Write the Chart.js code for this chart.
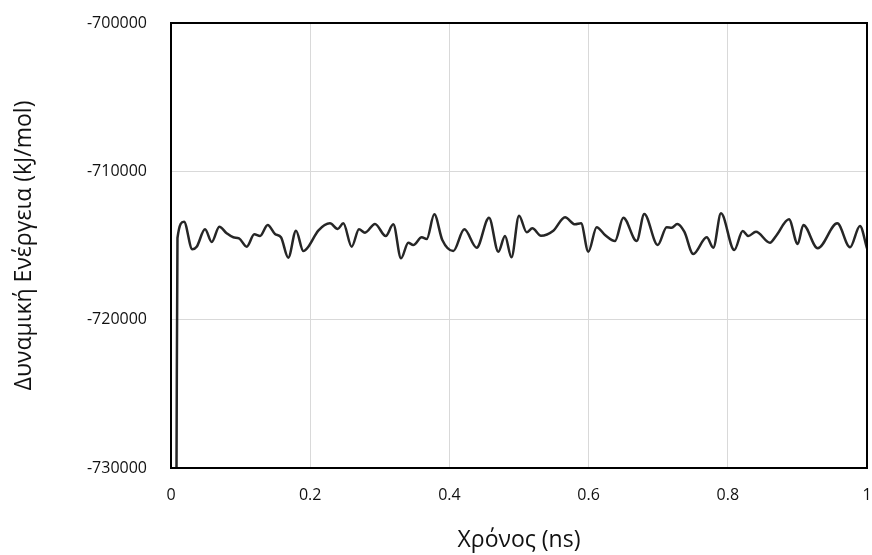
<!DOCTYPE html>
<html>
<head>
<meta charset="utf-8">
<script src="https://cdn.jsdelivr.net/npm/chart.js@4/dist/chart.umd.min.js"></script>
<style>
  html, body { margin: 0; padding: 0; background: #ffffff; }
  #wrap { width: 872px; height: 555px; }
</style>
</head>
<body>
<div id="wrap"><canvas id="c" width="872" height="555"></canvas></div>
<script>
// Time (ns) and potential energy (kJ/mol) of the simulation
const timeNs = [
  0.0079, 0.0093, 0.0187, 0.0306, 0.0369, 0.0489, 0.0585, 0.0694, 0.0800, 0.0895,
  0.0977, 0.1088, 0.1197, 0.1279, 0.1389, 0.1494, 0.1580, 0.1685, 0.1796, 0.1901,
  0.1973, 0.2116, 0.2284, 0.2395, 0.2476, 0.2596, 0.2701, 0.2787, 0.2931, 0.3085,
  0.3194, 0.3305, 0.3409, 0.3481, 0.3602, 0.3674, 0.3783, 0.3898, 0.4056, 0.4214,
  0.4392, 0.4569, 0.4703, 0.4799, 0.4892, 0.5000, 0.5111, 0.5191, 0.5316, 0.5493,
  0.5661, 0.5805, 0.5891, 0.5996, 0.6116, 0.6236, 0.6379, 0.6499, 0.6691, 0.6800,
  0.6993, 0.7122, 0.7194, 0.7274, 0.7375, 0.7504, 0.7697, 0.7792, 0.7902, 0.8093,
  0.8214, 0.8294, 0.8405, 0.8606, 0.8693, 0.8879, 0.9004, 0.9085, 0.9292, 0.9573,
  0.9756, 0.9899, 1.0000
];
const energy = [
  -730000, -714494, -713396, -715256, -715081, -713908, -714764, -713733, -714178, -714447,
  -714515, -715081, -714245, -714360, -713618, -714225, -714447, -715823, -714002, -715371,
  -715081, -714002, -713503, -713888, -713503, -715081, -713908, -714137, -713551, -714360,
  -713571, -715863, -714811, -714966, -714447, -714562, -712897, -714629, -715371, -713908,
  -715148, -713126, -715418, -714360, -715796, -712991, -714110, -713841, -714339, -714002,
  -713099, -713571, -713503, -715418, -713773, -714292, -714697, -713126, -714697, -712876,
  -714966, -713773, -713800, -713551, -714070, -715573, -714447, -715148, -712829, -715303,
  -714023, -714360, -714070, -714811, -714360, -713234, -714899, -713618, -715189, -713503,
  -715121, -713685, -715189
];
const xTicks = [0, 0.2, 0.4, 0.6, 0.8, 1];
const yTicks = [-730000, -720000, -710000, -700000];

const points = timeNs.map((t, i) => ({ x: t, y: energy[i] }));

const textColor = '#111111';
const gridColor = '#d9d9d9';
const family = "'Open Sans', 'DejaVu Sans', sans-serif";
const tickFont = { family, size: 16 };
const titleFont = { family, size: 23 };

// Black frame around the plot area
const plotFrame = {
  id: 'plotFrame',
  afterDatasetsDraw(chart) {
    const { ctx, chartArea: a } = chart;
    ctx.save();
    ctx.strokeStyle = '#000000';
    ctx.lineWidth = 2;
    ctx.strokeRect(a.left, a.top, a.right - a.left, a.bottom - a.top);
    ctx.restore();
  }
};

new Chart(document.getElementById('c'), {
  type: 'scatter',
  data: {
    datasets: [{
      data: points,
      showLine: true,
      borderColor: '#262626',
      borderWidth: 2.5,
      pointRadius: 0,
      pointHoverRadius: 0,
      cubicInterpolationMode: 'monotone',
      fill: false
    }]
  },
  options: {
    responsive: false,
    animation: false,
    events: [],
    layout: { padding: { top: 23, right: 5, left: 0, bottom: 0 } },
    plugins: { legend: { display: false }, tooltip: { enabled: false } },
    scales: {
      x: {
        type: 'linear',
        min: 0, max: 1,
        afterFit(scale) { scale.height = 87; },
        afterBuildTicks(scale) { scale.ticks = xTicks.map(v => ({ value: v })); },
        grid: { color: gridColor, lineWidth: 1, drawTicks: true, tickLength: 18, tickColor: 'rgba(0,0,0,0)' },
        border: { display: false },
        ticks: {
          padding: 0,
          maxRotation: 0,
          color: textColor,
          font: tickFont,
          callback: v => String(v)
        },
        title: {
          display: true,
          text: 'Χρόνος (ns)',
          color: textColor,
          font: titleFont,
          padding: { top: 0, bottom: 1 }
        }
      },
      y: {
        type: 'linear',
        min: -730000, max: -700000,
        afterFit(scale) { scale.width = 171; },
        afterBuildTicks(scale) { scale.ticks = yTicks.map(v => ({ value: v })); },
        grid: { color: gridColor, lineWidth: 1, drawTicks: true, tickLength: 24, tickColor: 'rgba(0,0,0,0)' },
        border: { display: false },
        ticks: {
          padding: 0,
          color: textColor,
          font: tickFont,
          callback: v => String(v)
        },
        title: {
          display: true,
          text: 'Δυναμική Ενέργεια (kJ/mol)',
          color: textColor,
          font: titleFont,
          padding: { top: 11, bottom: 0 }
        }
      }
    }
  },
  plugins: [plotFrame]
});
</script>
</body>
</html>
